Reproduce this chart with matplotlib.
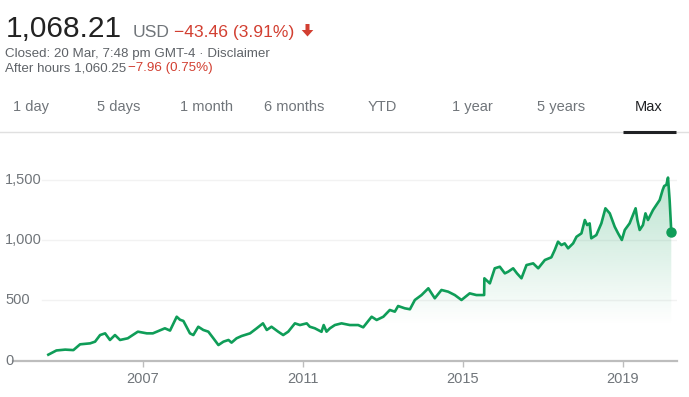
import matplotlib
matplotlib.use('Agg')
import matplotlib.pyplot as plt
import matplotlib.dates as mdates
import matplotlib.transforms as mtrans
import numpy as np

plt.rcParams['font.family'] = ['Liberation Sans', 'DejaVu Sans']

# price history (split adjusted, USD)
dates = [
  '2004-08-19', '2004-11-01', '2005-01-20', '2005-04-05', '2005-06-05', '2005-09-05',
  '2005-10-20', '2005-12-05', '2006-01-20', '2006-03-05', '2006-04-20', '2006-06-05',
  '2006-08-15', '2006-11-15', '2007-02-05', '2007-04-01', '2007-07-20', '2007-09-05',
  '2007-11-05', '2007-12-05', '2008-01-05', '2008-03-05', '2008-04-05', '2008-05-20',
  '2008-07-05', '2008-08-20', '2008-10-05', '2008-11-20', '2009-01-05', '2009-02-20',
  '2009-03-20', '2009-05-05', '2009-06-20', '2009-09-05', '2009-11-05', '2010-01-01',
  '2010-02-05', '2010-03-20', '2010-05-20', '2010-07-05', '2010-08-20', '2010-10-20',
  '2010-12-05', '2011-02-05', '2011-03-05', '2011-04-20', '2011-06-20', '2011-07-10',
  '2011-08-05', '2011-09-05', '2011-10-20', '2011-12-20', '2012-03-05', '2012-05-20',
  '2012-07-05', '2012-09-20', '2012-11-05', '2013-01-05', '2013-03-05', '2013-04-20',
  '2013-05-20', '2013-07-20', '2013-09-05', '2013-10-20', '2013-12-20', '2014-02-20',
  '2014-04-20', '2014-06-20', '2014-08-20', '2014-10-20', '2014-12-20', '2015-03-05',
  '2015-05-05', '2015-07-15', '2015-07-17', '2015-09-05', '2015-10-20', '2015-12-05',
  '2016-01-20', '2016-02-20', '2016-04-05', '2016-05-10', '2016-06-20', '2016-08-05',
  '2016-10-05', '2016-11-20', '2017-01-20', '2017-03-20', '2017-04-20', '2017-05-20',
  '2017-06-20', '2017-07-20', '2017-08-20', '2017-10-05', '2017-11-05', '2017-12-20',
  '2018-01-20', '2018-02-10', '2018-03-05', '2018-03-20', '2018-05-05', '2018-06-20',
  '2018-07-27', '2018-09-05', '2018-10-20', '2018-11-20', '2018-12-24', '2019-01-20',
  '2019-03-05', '2019-04-29', '2019-05-15', '2019-06-05', '2019-07-05', '2019-07-28',
  '2019-08-20', '2019-10-05', '2019-12-05', '2020-01-01', '2020-01-15', '2020-02-04',
  '2020-02-19', '2020-03-05', '2020-03-20',
]
prices = [
  50, 85, 92, 88, 136, 144,
  158, 213, 227, 172, 213, 172,
  186, 241, 227, 227, 269, 250,
  365, 340, 330, 227, 213, 282,
  255, 241, 186, 130, 158, 172,
  150, 186, 205, 227, 269, 310,
  255, 282, 241, 213, 241, 310,
  296, 310, 282, 269, 240, 296,
  241, 269, 296, 310, 296, 296,
  277, 365, 338, 365, 421, 407,
  454, 435, 427, 504, 545, 601,
  518, 587, 573, 545, 504, 559,
  545, 545, 684, 642, 767, 780,
  725, 739, 767, 725, 684, 794,
  808, 767, 836, 858, 919, 988,
  960, 974, 933, 974, 1029, 1057,
  1168, 1126, 1140, 1016, 1043, 1140,
  1265, 1223, 1112, 1057, 1002, 1085,
  1140, 1265, 1168, 1085, 1126, 1223,
  1168, 1251, 1334, 1417, 1450, 1460,
  1520, 1330, 1068.21,
]
y_ticks = [0, 500, 1000, 1500]
y_labels = ['0', '500', '1,000', '1,500']
x_ticks = ['2007-01-01', '2011-01-01', '2015-01-01', '2019-01-01']
x_labels = ['2007', '2011', '2015', '2019']
tabs = ['1 day', '5 days', '1 month', '6 months', 'YTD', '1 year', '5 years', 'Max']
tab_x = [13, 97, 180, 264, 368, 452, 537, 635]

W, H = 689, 397
GREEN = '#0f9d58'
GRAY = '#70757a'
RED = '#d23f31'

fig = plt.figure(figsize=(W / 100, H / 100), dpi=100)
fig.patch.set_facecolor('white')

def px(x, y):
  # pixel coords (from top-left) -> figure fraction
  return x / W, 1 - y / H

def ftext(x, y, s, **kw):
  fx, fy = px(x, y)
  fig.text(fx, fy, s, **kw)

# header
ftext(6, 37, '1,068.21', fontsize=21.5, color='#222222', va='baseline')
ftext(133, 37, 'USD', fontsize=12.6, color=GRAY, va='baseline')
ftext(174, 37, '\u221243.46 (3.91%)', fontsize=12.6, color=RED, va='baseline')
# down arrow
arrow = [(305.5, 24), (309.5, 24), (309.5, 30), (313.3, 30), (307.5, 36.5),
         (301.7, 30), (305.5, 30)]
fig.add_artist(plt.Polygon([px(*p) for p in arrow], closed=True,
                           facecolor=RED, edgecolor='none'))
ftext(5, 56.5, 'Closed: 20 Mar, 7:48 pm GMT-4 \u00b7 Disclaimer', fontsize=9.6,
      color='#5f6368', va='baseline')
ftext(5, 71.5, 'After hours 1,060.25', fontsize=9.6, color='#5f6368', va='baseline')
ftext(128, 71.5, '\u22127.96 (0.75%)', fontsize=9.6, color=RED, va='baseline')

for t, x in zip(tabs, tab_x):
  ftext(x, 110.7, t, fontsize=10.5, va='baseline',
        color='#202124' if t == 'Max' else GRAY)

# separator and active tab underline
fig.add_artist(plt.Line2D([0, 1], [px(0, 132)[1]] * 2, color='#e0e0e0', lw=1))
fig.add_artist(plt.Line2D([px(623, 0)[0], px(676, 0)[0]], [px(0, 131.5)[1]] * 2,
                          color='#202124', lw=2.2, solid_capstyle='butt'))

# chart axes: spans px x 0..677, y 170..360.7
left, right, top, bottom = 0, 677, 170, 360.7
ax = fig.add_axes([left / W, 1 - bottom / H, (right - left) / W, (bottom - top) / H])
ax.set_facecolor('none')
for s in ax.spines.values():
  s.set_visible(False)

xs = mdates.datestr2num(dates)
xt = mdates.datestr2num(x_ticks)
ppd = (622.7 - 143) / (xt[3] - xt[0])  # pixels per day
x0 = xt[0] - (143 - left) / ppd
x1 = xt[0] + (right - 143) / ppd
ymax = 1500 * (bottom - top) / (bottom - 180)

# gradient fill under the line
vals = np.linspace(0, ymax, 256)
alpha = np.clip((vals - 300) / 1200, 0, 1) * 0.28
img = np.zeros((256, 1, 4))
img[:, 0, 0:3] = matplotlib.colors.to_rgb(GREEN)
img[:, 0, 3] = alpha
poly = ax.fill_between(xs, prices, 0, facecolor='none', edgecolor='none')
im = ax.imshow(img, extent=[x0, x1, 0, ymax], origin='lower', aspect='auto', zorder=1)
im.set_clip_path(poly.get_paths()[0], transform=ax.transData)

# grid lines
for v in y_ticks[1:]:
  ax.axhline(v, xmin=42 / right, xmax=1, color='#f2f2f2', lw=1, zorder=0)
ax.axhline(0, xmin=13 / right, xmax=1, color='#bdbdbd', lw=1.6, clip_on=False, zorder=3)

ax.plot(xs, prices, color=GREEN, lw=1.9, solid_joinstyle='round', zorder=4)
ax.plot(xs[-1], prices[-1], 'o', ms=6.5, color=GREEN, zorder=5)

ax.set_xlim(x0, x1)
ax.set_ylim(0, ymax)
ax.set_xticks(xt)
ax.set_xticklabels(x_labels)
ax.tick_params(axis='x', length=4, width=1, color='#bdbdbd', labelcolor=GRAY,
               labelsize=10.5, pad=4)
ax.set_yticks([])

ylab_tr = mtrans.blended_transform_factory(fig.transFigure, ax.transData)
for v, lab in zip(y_ticks, y_labels):
  ax.text(5 / W, v, lab, transform=ylab_tr, fontsize=10.5, color=GRAY,
          va='center', ha='left')

fig.savefig('out.png', dpi=100)
